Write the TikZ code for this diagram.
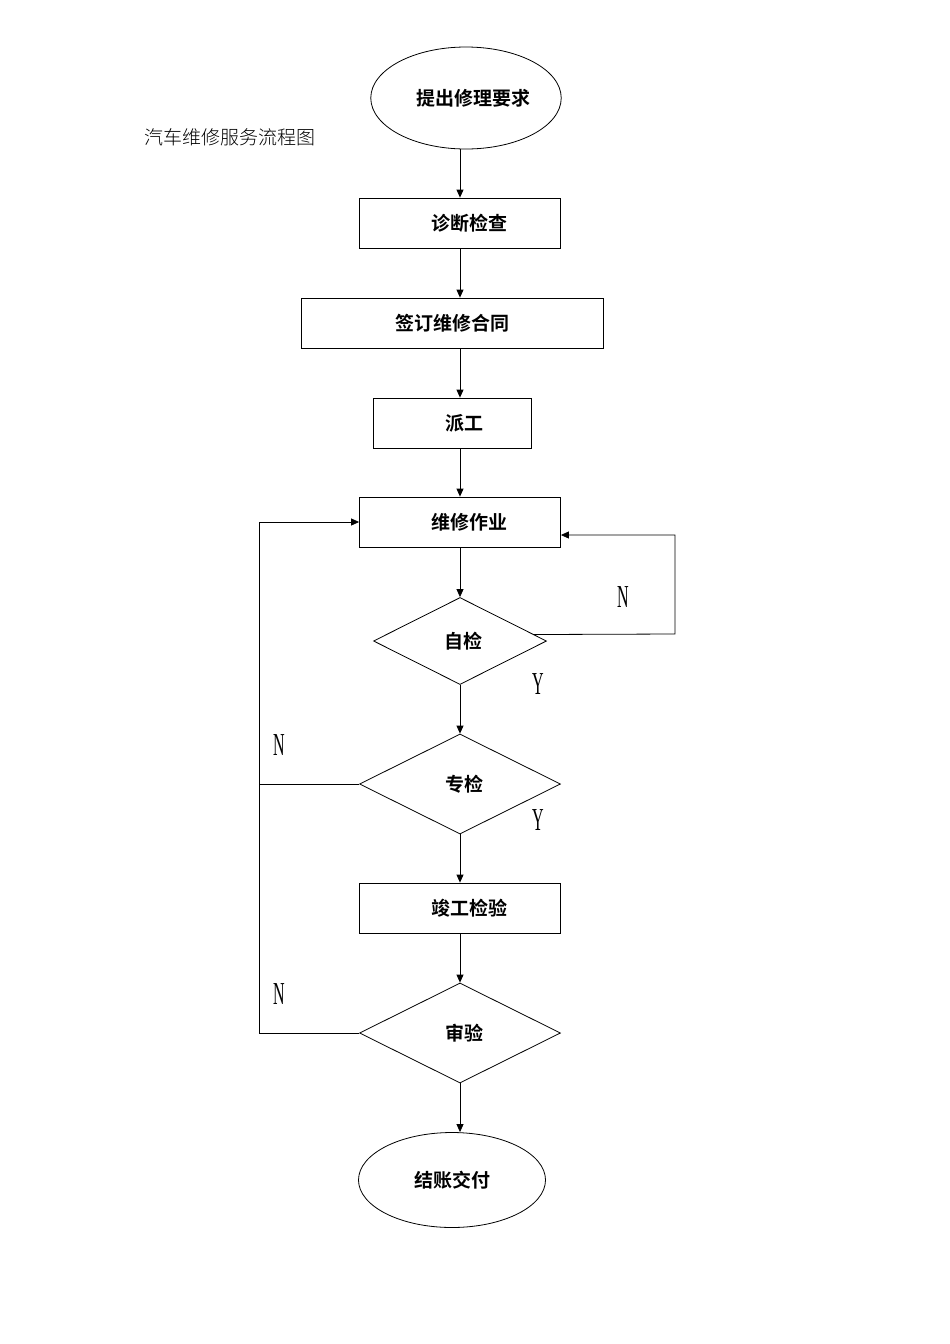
\documentclass[tikz,border=0pt]{standalone}
\usepackage{fontspec}
\usetikzlibrary{shapes.geometric,arrows.meta,calc}
\newfontfamily\cjkb{Noto Sans CJK SC Bold}
\newfontfamily\cjkl{Noto Sans CJK SC Light}
\newfontfamily\narrowfont[FakeStretch=0.5]{Liberation Serif}
\tikzset{
    stepbox/.style={draw, line width=0.8pt, minimum height=50pt, font=\cjkb\fontsize{19}{19}\selectfont},
    endpoint/.style={draw, ellipse, line width=0.8pt, font=\cjkb\fontsize{19}{19}\selectfont},
    check/.style={draw, diamond, line width=0.8pt, inner sep=0pt, font=\cjkb\fontsize{19}{19}\selectfont},
    flow/.style={line width=0.8pt, -{Triangle[length=8pt,width=7pt]}},
    yn/.style={font=\narrowfont\fontsize{32}{32}\selectfont}
}
\begin{document}
\begin{tikzpicture}[x=1pt,y=-1pt]
    \useasboundingbox (0,0) rectangle (950,1344);
    \node[font=\cjkl\fontsize{19}{19}\selectfont] (title) at (230,137) {汽车维修服务流程图};

    \node[endpoint, minimum width=187pt, minimum height=102pt] (tichu) at (466,98) {\hspace{14pt}提出修理要求};
    \node[stepbox, minimum width=201pt] (zhenduan) at (460,223) {\hspace{18pt}诊断检查};
    \node[stepbox, minimum width=302pt] (qianding) at (452,323) {签订维修合同};
    \node[stepbox, minimum width=158pt] (paigong) at (452,423) {\hspace{24pt}派工};
    \node[stepbox, minimum width=201pt] (weixiu) at (460,522) {\hspace{18pt}维修作业};
    \node[check, minimum width=173pt, minimum height=87pt] (zijian) at (460,641) {\hspace{6pt}自检};
    \node[check, minimum width=201pt, minimum height=100pt] (zhuanjian) at (460,784) {\raisebox{-9pt}{\hspace{8pt}专检}};
    \node[stepbox, minimum width=201pt] (jungong) at (460,908) {\hspace{18pt}竣工检验};
    \node[check, minimum width=201pt, minimum height=100pt] (shenyan) at (460,1033) {\hspace{8pt}审验};
    \node[endpoint, minimum width=187pt, minimum height=95pt] (jiezhang) at (452,1180) {结账交付};

    % main line
    \draw[flow] (tichu.south -| zhenduan) -- (zhenduan);
    \draw[flow] (zhenduan) -- (zhenduan |- qianding.north);
    \draw[flow] (qianding.south -| zhenduan) -- (zhenduan |- paigong.north);
    \draw[flow] (paigong.south -| zhenduan) -- (weixiu);
    \draw[flow] (weixiu) -- (zijian);
    \draw[flow] (zijian) -- (zhuanjian);
    \draw[flow] (zhuanjian) -- (jungong);
    \draw[flow] (jungong) -- (shenyan);
    \draw[flow] (shenyan) -- (shenyan.south |- jiezhang.north);

    % loops back
    \coordinate (back1) at ($(weixiu.east)+(0,13)$);
    \coordinate (corner1) at (675,634);
    \coordinate (corner2) at (259,784);
    \draw[flow] (zijian.5) -- (corner1) |- (back1);
    \draw[flow] (zhuanjian.west) -- (corner2) |- (weixiu.west);
    \draw[line width=0.8pt] (shenyan.west) -| (corner2);

    \node[yn] (n1) at (623,597) {N};
    \node[yn] (y1) at (538,684) {Y};
    \node[yn] (n2) at (279,745) {N};
    \node[yn] (y2) at (538,820) {Y};
    \node[yn] (n3) at (279,994) {N};
\end{tikzpicture}
\end{document}
